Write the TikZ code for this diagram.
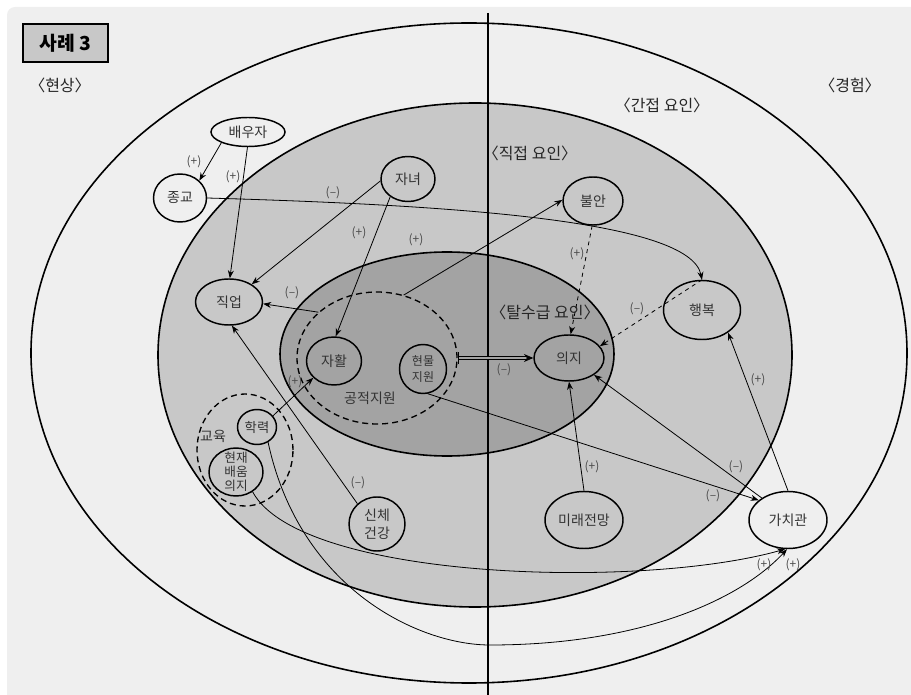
\documentclass[tikz,border=0pt]{standalone}
\usepackage{fontspec}
\setmainfont{Noto Sans CJK KR}
\usetikzlibrary{shapes.geometric,arrows.meta}
\definecolor{bgpaper}{HTML}{EFEFEF}
\definecolor{ringmid}{HTML}{C8C8C8}
\definecolor{ringin}{HTML}{A3A3A3}
\definecolor{inktext}{HTML}{333333}
\begin{document}
\begin{tikzpicture}[x=0.75pt,y=-0.75pt,
  factor/.style={ellipse,draw,line width=1.1pt,inner sep=0pt,text=inktext,align=center,
    font=\fontsize{10.5}{12}\selectfont},
  group/.style={ellipse,draw,line width=1pt,inner sep=0pt,dash pattern=on 4.5pt off 3pt},
  sign/.style={text=black!70,inner sep=0pt,font=\fontsize{9}{10}\selectfont},
  area/.style={inner sep=0pt,text=black!85,font=\fontsize{12}{14}\selectfont},
  link/.style={line width=0.6pt,-{Stealth[length=6pt,width=4.5pt]}},
]
  \useasboundingbox (0,0) rectangle (911,695);
  % Frame and rings
  \fill[bgpaper,rounded corners=6pt] (7,7) rectangle (930,715);
  \draw[line width=1.2pt] (469,353) ellipse [x radius=438, y radius=330];
  \draw[line width=1.2pt,fill=ringmid] (475,355) ellipse [x radius=317, y radius=252];
  \draw[line width=1.2pt,fill=ringin] (447,354) ellipse [x radius=167, y radius=102];
  \draw[line width=1.1pt] (488,13) -- (488,700);

  % Title and ring labels
  \node[draw,fill=ringmid,line width=0.9pt,minimum width=63.75pt,minimum height=28.5pt,
    font=\bfseries\fontsize{14.5}{16}\selectfont] (case) at (65.5,43) {사례 3};
  \node[area] (hyeonsang) at (60,85) {〈현상〉};
  \node[area] (ganjeop) at (662,105) {〈간접 요인〉};
  \node[area] (gyeongheom) at (850,85) {〈경험〉};
  \node[area] (jikjeop) at (530,153) {〈직접 요인〉};
  \node[area] (talsugeup) at (545,312) {〈탈수급 요인〉};

  % Groups
  \node[group,minimum width=120pt,minimum height=99pt] (gongjeok) at (377,358) {};
  \node[group,minimum width=72pt,minimum height=84pt] (gyoyuk) at (245,450) {};
  \node[inner sep=0pt,text=inktext,font=\fontsize{10.5}{12}\selectfont] (gongjeoklabel) at (370,398) {공적지원};
  \node[inner sep=0pt,text=inktext,font=\fontsize{10.5}{12}\selectfont] (gyoyuklabel) at (213,436) {교육};

  % Factors
  \node[factor,minimum width=55.5pt,minimum height=21.75pt] (baeuja) at (248,132) {배우자};
  \node[factor,minimum width=39.75pt,minimum height=36pt] (jonggyo) at (180,198) {종교};
  \node[factor,minimum width=40.5pt,minimum height=33.75pt] (janyeo) at (408,179) {자녀};
  \node[factor,minimum width=45pt,minimum height=36pt] (buran) at (593,201) {불안};
  \node[factor,minimum width=50.25pt,minimum height=34.5pt] (jigeop) at (229,302) {직업};
  \node[factor,minimum width=57.75pt,minimum height=44.25pt] (haengbok) at (702,310) {행복};
  \node[factor,minimum width=52.5pt,minimum height=34.5pt] (uiji) at (569,358) {의지};
  \node[factor,minimum width=41.25pt,minimum height=36pt] (jahwal) at (334,361) {자활};
  \node[factor,minimum width=35.25pt,minimum height=36.75pt,font=\fontsize{9}{12.5}\selectfont]
    (hyeonmul) at (423,369) {현물\\지원};
  \node[factor,minimum width=29.25pt,minimum height=26.25pt,font=\fontsize{10}{11}\selectfont]
    (hakryeok) at (257,427) {학력};
  \node[factor,minimum width=40.5pt,minimum height=36pt,
    label={[align=center,text=inktext,font=\fontsize{9.5}{10.5}\selectfont]center:현재\\배움\\의지}]
    (baeum) at (236,472) {};
  \node[factor,minimum width=42pt,minimum height=40.5pt,font=\fontsize{10.5}{13.5}\selectfont]
    (sinche) at (377,524) {신체\\건강};
  \node[factor,minimum width=58.5pt,minimum height=42.75pt] (mirae) at (584,520) {미래전망};
  \node[factor,minimum width=58.5pt,minimum height=42.75pt] (gachi) at (788,520) {가치관};

  % Links
  \draw[link] (baeuja.202) -- (jonggyo.42);
  \draw[link] (baeuja.268) -- (jigeop.88);
  \draw[link] (jonggyo.east) .. controls (450,205) and (690,220) .. (haengbok.north);
  \draw[link] (janyeo.184) -- (jigeop.38);
  \draw[link] (janyeo.225) -- (jahwal.86);
  \draw[link] (gongjeok.67) -- (buran.178);
  \draw[link] (gongjeok.142) -- (jigeop.-3);
  \draw[line width=0.6pt,double=ringin,double distance=1.4pt,{Bar[width=9pt]}-{Stealth[length=7pt,width=6pt]}]
    (gongjeok.east) -- (uiji.west);
  \draw[link,dashed] (buran.268) -- (uiji.86);
  \draw[link,dashed] (haengbok.north) -- (uiji.21);
  \draw[link] (mirae.north) -- (uiji.south);
  \draw[link] (gachi.140) -- (uiji.-34);
  \draw[link] (hyeonmul.281) -- (gachi.146);
  \draw[link] (gachi.north) -- (haengbok.-41);
  \draw[link] (sinche.134) -- (jigeop.277);
  \draw[link] (hakryeok.35) -- (jahwal.219);
  \draw[link] (baeum.310) .. controls (300,580) and (640,590) .. (gachi.264);
  \draw[link] (hakryeok.306) .. controls (300,590) and (420,645) .. (490,645)
    .. controls (640,645) and (740,600) .. (gachi.268);

  % Signs
  \node[sign] (s1) at (194,162) {(+)};
  \node[sign] (s2) at (233,177) {(+)};
  \node[sign] (s3) at (333,193) {(–)};
  \node[sign] (s4) at (359,233) {(+)};
  \node[sign] (s5) at (416,240) {(+)};
  \node[sign] (s6) at (292,293) {(–)};
  \node[sign] (s7) at (504,370) {(–)};
  \node[sign] (s8) at (577,254) {(+)};
  \node[sign] (s9) at (637,309) {(–)};
  \node[sign] (s10) at (592,467) {(+)};
  \node[sign] (s11) at (736,467) {(–)};
  \node[sign] (s12) at (713,496) {(–)};
  \node[sign] (s13) at (758,380) {(+)};
  \node[sign] (s14) at (358,483) {(–)};
  \node[sign] (s15) at (295,382) {(+)};
  \node[sign] (s16) at (764,565) {(+)};
  \node[sign] (s17) at (793,565) {(+)};
\end{tikzpicture}
\end{document}
